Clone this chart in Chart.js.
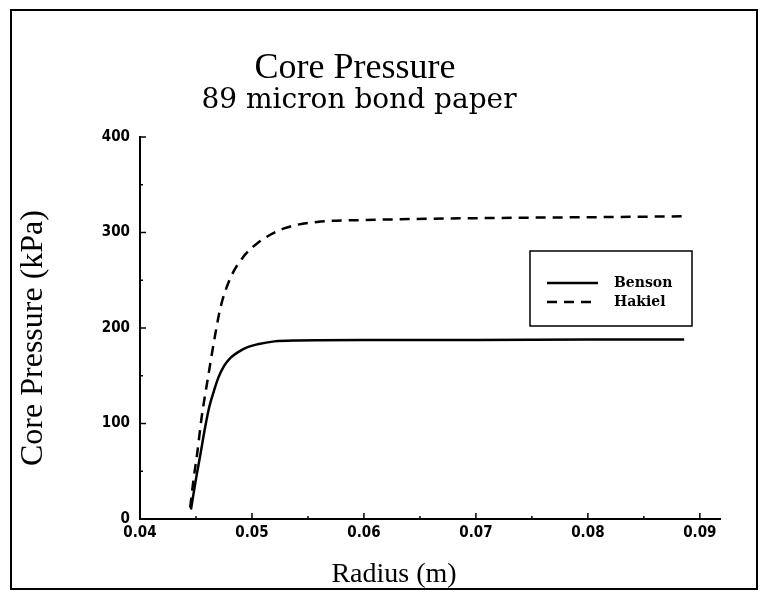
<!DOCTYPE html>
<html>
<head>
<meta charset="utf-8">
<script src="https://cdn.jsdelivr.net/npm/chart.js@4.4.1/dist/chart.umd.min.js"></script>
<style>
  html, body { margin: 0; padding: 0; background: #fff; }
  #wrap { width: 760px; height: 592px; }
</style>
</head>
<body>
<div id="wrap"><canvas id="myChart" width="760" height="592"></canvas></div>
<script>
// values
var bensonR = [0.04455, 0.0450, 0.0454, 0.0458, 0.0462, 0.0466, 0.0470, 0.0475, 0.0481, 0.0488, 0.0496, 0.0505, 0.0520, 0.0540, 0.0600, 0.0700, 0.0800, 0.0886];
var bensonP = [10, 42, 68, 95, 118, 134, 148, 160, 169, 175, 180, 183, 186, 187, 187.5, 187.5, 188, 188];

var hakielR = [0.04448, 0.0448, 0.0451, 0.0455, 0.0461, 0.0467, 0.0472, 0.0481, 0.0492, 0.0504, 0.0528, 0.0558, 0.0600, 0.0700, 0.0800, 0.0886];
var hakielP = [12, 43, 68, 106, 150, 192, 222, 253, 274, 288, 304, 311, 313, 315, 316, 317];

var xTicks = [0.04, 0.045, 0.05, 0.055, 0.06, 0.065, 0.07, 0.075, 0.08, 0.085, 0.09];
var xTickLabels = ['0.04', '', '0.05', '', '0.06', '', '0.07', '', '0.08', '', '0.09'];
var yTicks = [0, 50, 100, 150, 200, 250, 300, 350, 400];
var yTickLabels = ['0', '', '100', '', '200', '', '300', '', '400'];

var titleText = 'Core Pressure';
var subtitleText = '89 micron bond paper';
var xTitle = 'Radius (m)';
var yTitle = 'Core Pressure (kPa)';

function toPoints(xs, ys) {
  var pts = [];
  for (var i = 0; i < xs.length; i++) {
    pts.push({x: xs[i], y: ys[i]});
  }
  return pts;
}

// titles, frame, inside ticks and the boxed legend
var decor = {
  id: 'decor',
  afterDraw: function(chart) {
    var ctx = chart.ctx;
    var xs = chart.scales.x, ys = chart.scales.y;
    var area = chart.chartArea;
    ctx.save();

    ctx.strokeStyle = '#000';
    ctx.lineWidth = 2;
    ctx.strokeRect(11, 10, 746, 579);

    // tick marks pointing into the plot
    ctx.lineWidth = 1.5;
    xs.ticks.forEach(function(t, i) {
      var px = xs.getPixelForValue(t.value);
      var len = xTickLabels[i] ? 6 : 3;
      ctx.beginPath();
      ctx.moveTo(px, area.bottom);
      ctx.lineTo(px, area.bottom - len);
      ctx.stroke();
    });
    ys.ticks.forEach(function(t, i) {
      var py = ys.getPixelForValue(t.value);
      var len = yTickLabels[i] ? 6 : 3;
      ctx.beginPath();
      ctx.moveTo(area.left, py);
      ctx.lineTo(area.left + len, py);
      ctx.stroke();
    });

    ctx.fillStyle = '#000';
    ctx.textAlign = 'center';
    ctx.textBaseline = 'alphabetic';
    ctx.font = '36px "Liberation Serif"';
    ctx.fillText(titleText, 355, 78);
    ctx.font = '28px "DejaVu Serif"';
    ctx.fillText(subtitleText, 359, 108);
    ctx.font = '28px "Liberation Serif"';
    ctx.fillText(xTitle, 394, 582);
    ctx.save();
    ctx.translate(42, 338);
    ctx.rotate(-Math.PI / 2);
    ctx.font = '32px "Liberation Serif"';
    ctx.fillText(yTitle, 0, 0);
    ctx.restore();

    // legend
    var lx = 530, ly = 251, lw = 162, lh = 75;
    ctx.lineWidth = 1.5;
    ctx.strokeRect(lx, ly, lw, lh);
    ctx.font = 'bold 14px "DejaVu Serif"';
    ctx.textAlign = 'left';
    ctx.textBaseline = 'middle';
    var rows = [283, 302];
    chart.data.datasets.forEach(function(ds, i) {
      ctx.beginPath();
      ctx.lineWidth = ds.borderWidth;
      ctx.setLineDash(ds.borderDash || []);
      ctx.moveTo(547, rows[i]);
      ctx.lineTo(598, rows[i]);
      ctx.stroke();
      ctx.setLineDash([]);
      ctx.fillText(ds.label, 614, rows[i]);
    });
    ctx.restore();
  }
};

var tickFont = {family: '"DejaVu Sans Condensed", "DejaVu Sans"', size: 15, weight: 'bold'};

new Chart(document.getElementById('myChart'), {
  type: 'line',
  data: {
    datasets: [
      {
        label: 'Benson',
        data: toPoints(bensonR, bensonP),
        borderColor: '#000',
        borderWidth: 2.5,
        pointRadius: 0,
        cubicInterpolationMode: 'monotone',
        fill: false
      },
      {
        label: 'Hakiel',
        data: toPoints(hakielR, hakielP),
        borderColor: '#000',
        borderWidth: 2.5,
        borderDash: [10, 7],
        pointRadius: 0,
        cubicInterpolationMode: 'monotone',
        fill: false
      }
    ]
  },
  options: {
    responsive: false,
    animation: false,
    layout: {padding: {top: 137, right: 40, bottom: 0, left: 0}},
    plugins: {
      legend: {display: false},
      title: {display: false},
      tooltip: {enabled: false}
    },
    scales: {
      x: {
        type: 'linear',
        min: 0.04,
        max: 0.0918,
        afterBuildTicks: function(scale) {
          scale.ticks = xTicks.map(function(v) { return {value: v}; });
        },
        afterFit: function(scale) { scale.height = 73; },
        grid: {display: false, drawTicks: false},
        border: {display: true, color: '#000', width: 2},
        ticks: {
          autoSkip: false,
          maxRotation: 0,
          padding: 5,
          color: '#000',
          font: tickFont,
          callback: function(value, index) { return xTickLabels[index]; }
        }
      },
      y: {
        min: 0,
        max: 400,
        afterBuildTicks: function(scale) {
          scale.ticks = yTicks.map(function(v) { return {value: v}; });
        },
        afterFit: function(scale) { scale.width = 140; },
        grid: {display: false, drawTicks: false},
        border: {display: true, color: '#000', width: 2},
        ticks: {
          autoSkip: false,
          padding: 10,
          color: '#000',
          font: tickFont,
          callback: function(value, index) { return yTickLabels[index]; }
        }
      }
    }
  },
  plugins: [decor]
});
</script>
</body>
</html>
